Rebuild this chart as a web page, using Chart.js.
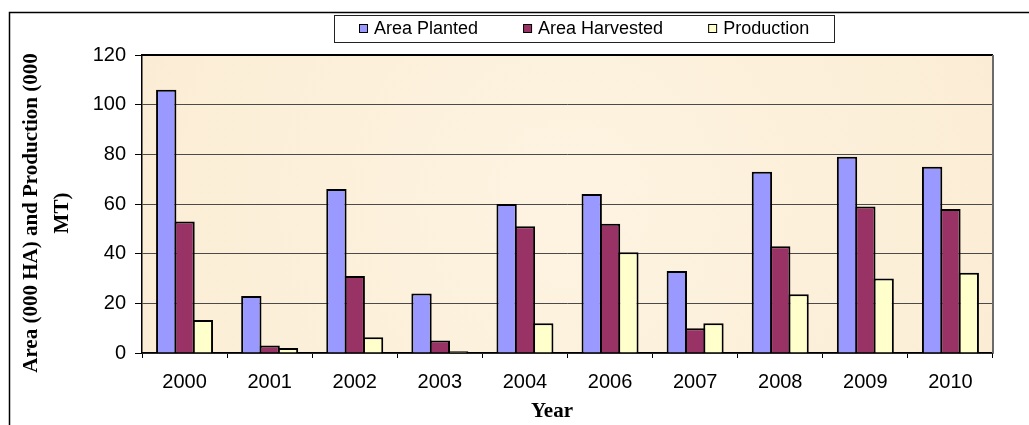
<!DOCTYPE html>
<html>
<head>
<meta charset="utf-8">
<title>Area and Production by Year</title>
<script src="https://cdn.jsdelivr.net/npm/chart.js@4.4.0/dist/chart.umd.min.js"></script>
<style>
    html, body { margin: 0; padding: 0; background: #fff; }
    #wrap { width: 1029px; height: 425px; }
</style>
</head>
<body>
<div id="wrap"><canvas id="chartCanvas" width="1029" height="425"></canvas></div>
<script>
// Data
const years = ['2000', '2001', '2002', '2003', '2004', '2006', '2007', '2008', '2009', '2010'];
const areaPlanted = [106, 23, 66, 24, 60, 64, 33, 73, 79, 75];
const areaHarvested = [53, 3, 31, 5, 51, 52, 10, 43, 59, 58];
const production = [13.3, 2, 6.3, 0.7, 12, 40.6, 12, 23.7, 30, 32.3];
const yTicks = [0, 20, 40, 60, 80, 100, 120];
const seriesNames = ['Area Planted', 'Area Harvested', 'Production'];
const yTitle = ['Area (000 HA) and Production (000', 'MT)'];
const xTitle = 'Year';

const sansFont = '"Liberation Sans", Arial, sans-serif';
const serifFont = '"Liberation Serif", "Times New Roman", serif';

// Plot background, outer frame
const backgroundPlugin = {
    id: 'backgroundPlugin',
    beforeDraw(chart) {
        const ctx = chart.ctx;
        const a = chart.chartArea;
        ctx.save();
        const g = ctx.createRadialGradient((a.left + a.right) / 2, (a.top + a.bottom) / 2, 40,
            (a.left + a.right) / 2, (a.top + a.bottom) / 2, 520);
        g.addColorStop(0, '#fdf3e0');
        g.addColorStop(1, '#fbecd3');
        ctx.fillStyle = g;
        ctx.fillRect(a.left, a.top, a.right - a.left, a.bottom - a.top);

        ctx.strokeStyle = '#000';
        ctx.lineWidth = 1.5;
        ctx.beginPath();
        ctx.moveTo(9.5, 425);
        ctx.lineTo(9.5, 12.5);
        ctx.lineTo(1029, 12.5);
        ctx.stroke();
        ctx.restore();
    }
};

// Legend box, axis titles, plot border
const decorPlugin = {
    id: 'decorPlugin',
    afterDraw(chart) {
        const ctx = chart.ctx;
        const a = chart.chartArea;
        ctx.save();

        // plot area border (top black, right grey)
        ctx.strokeStyle = '#000';
        ctx.lineWidth = 2;
        ctx.beginPath();
        ctx.moveTo(a.left, a.top);
        ctx.lineTo(a.right, a.top);
        ctx.stroke();
        ctx.strokeStyle = '#6b6b6b';
        ctx.beginPath();
        ctx.moveTo(a.right, a.top);
        ctx.lineTo(a.right, a.bottom);
        ctx.stroke();

        // legend
        const box = { left: 334, top: 15, right: 834, bottom: 42 };
        ctx.fillStyle = '#fff';
        ctx.fillRect(box.left, box.top, box.right - box.left, box.bottom - box.top);
        ctx.strokeStyle = '#222';
        ctx.lineWidth = 1;
        ctx.strokeRect(box.left + 0.5, box.top + 0.5, box.right - box.left, box.bottom - box.top);

        ctx.font = '18px ' + sansFont;
        const marker = 8, markerGap = 7, itemGap = 45;
        const widths = chart.data.datasets.map(ds => ctx.measureText(ds.label).width);
        let total = 0;
        widths.forEach((w, i) => { total += marker + markerGap + w + (i > 0 ? itemGap : 0); });
        let x = Math.round((box.left + box.right) / 2 - total / 2);
        const cy = (box.top + box.bottom) / 2;
        chart.data.datasets.forEach((ds, i) => {
            ctx.fillStyle = ds.backgroundColor;
            ctx.fillRect(x + 0.5, cy - 4, marker, marker);
            ctx.strokeStyle = '#000';
            ctx.strokeRect(x + 0.5, cy - 4, marker, marker);
            ctx.fillStyle = '#000';
            ctx.textBaseline = 'middle';
            ctx.textAlign = 'left';
            ctx.fillText(ds.label, x + marker + markerGap, cy + 1);
            x += marker + markerGap + widths[i] + itemGap;
        });

        // y axis title, two lines rotated
        ctx.fillStyle = '#000';
        ctx.font = 'bold 21px ' + serifFont;
        ctx.textAlign = 'center';
        ctx.textBaseline = 'alphabetic';
        const mid = (a.top + a.bottom) / 2 + 9;
        [36.5, 68].forEach((bx, i) => {
            ctx.save();
            ctx.translate(bx, mid);
            ctx.rotate(-Math.PI / 2);
            ctx.fillText(yTitle[i], 0, 0);
            ctx.restore();
        });

        // x axis title
        ctx.fillText(xTitle, 552, 417);
        ctx.restore();
    }
};

document.addEventListener('DOMContentLoaded', function () {
    const ctx = document.getElementById('chartCanvas');
    const barStyle = {
        borderColor: '#000',
        borderWidth: 2,
        categoryPercentage: 0.646,
        barPercentage: 1.11
    };

    new Chart(ctx, {
        type: 'bar',
        data: {
            labels: years,
            datasets: [
                Object.assign({ label: seriesNames[0], data: areaPlanted, backgroundColor: '#9999ff' }, barStyle),
                Object.assign({ label: seriesNames[1], data: areaHarvested, backgroundColor: '#993366' }, barStyle),
                Object.assign({ label: seriesNames[2], data: production, backgroundColor: '#ffffcc' }, barStyle)
            ]
        },
        options: {
            responsive: false,
            animation: false,
            devicePixelRatio: 1,
            layout: {
                padding: { top: 55, right: 36, left: 0, bottom: 0 }
            },
            plugins: {
                legend: { display: false },
                tooltip: { enabled: false }
            },
            scales: {
                x: {
                    offset: true,
                    afterFit: function (scale) { scale.height = 72; },
                    grid: {
                        offset: true,
                        drawOnChartArea: false,
                        drawTicks: true,
                        tickLength: 5,
                        tickColor: '#000'
                    },
                    border: { color: '#000', width: 1.5 },
                    ticks: {
                        color: '#000',
                        padding: 12,
                        font: { family: sansFont, size: 20 }
                    }
                },
                y: {
                    min: yTicks[0],
                    max: yTicks[yTicks.length - 1],
                    afterFit: function (scale) { scale.width = 142; },
                    afterBuildTicks: function (scale) {
                        scale.ticks = yTicks.map(v => ({ value: v }));
                    },
                    grid: {
                        color: '#4a4a4a',
                        lineWidth: 1,
                        drawTicks: true,
                        tickLength: 7,
                        tickColor: '#000'
                    },
                    border: { color: '#000', width: 1.5 },
                    ticks: {
                        color: '#000',
                        padding: 9,
                        font: { family: sansFont, size: 20 }
                    }
                }
            }
        },
        plugins: [backgroundPlugin, decorPlugin]
    });
});
</script>
</body>
</html>
